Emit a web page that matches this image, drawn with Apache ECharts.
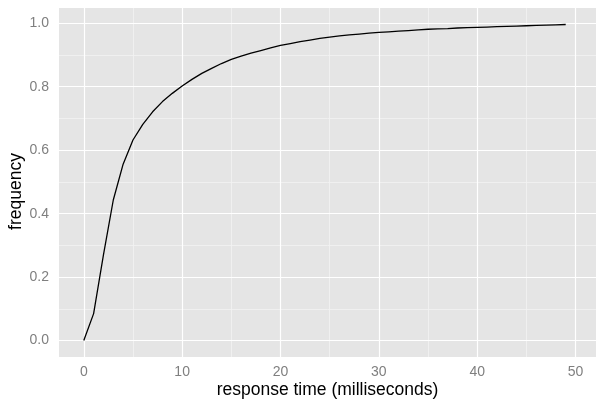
<!doctype html>
<html>
<head>
    <meta http-equiv="Content-Type" content="text/html; charset=utf-8" />
    <title>response time</title>
    <script src="https://cdn.jsdelivr.net/npm/echarts@6/dist/echarts.min.js"></script>
    <style>
        html, body { margin: 0; padding: 0; background: #fff; }
        #main { width: 597px; height: 401px; }
    </style>
</head>
<body>
<div id="main"></div>
<script type="text/javascript">
    // data
    var responseTime = [0, 1, 2, 3, 4, 5, 6, 7, 8, 9,
        10, 11, 12, 13, 14, 15, 16, 17, 18, 19,
        20, 21, 22, 23, 24, 25, 26, 27, 28, 29,
        30, 31, 32, 33, 34, 35, 36, 37, 38, 39,
        40, 41, 42, 43, 44, 45, 46, 47, 48, 49];
    var frequency = [0.000, 0.085, 0.270, 0.443, 0.556, 0.632, 0.681, 0.721, 0.753, 0.779,
        0.802, 0.823, 0.842, 0.858, 0.873, 0.886, 0.896, 0.906, 0.914, 0.922,
        0.930, 0.936, 0.942, 0.947, 0.952, 0.956, 0.960, 0.963, 0.966, 0.969,
        0.971, 0.973, 0.975, 0.977, 0.979, 0.981, 0.982, 0.983, 0.985, 0.986,
        0.987, 0.988, 0.989, 0.990, 0.991, 0.992, 0.993, 0.994, 0.995, 0.996];
    var xTicks = [0, 10, 20, 30, 40, 50];
    var xMinor = [5, 15, 25, 35, 45];
    var yTicks = [0, 0.2, 0.4, 0.6, 0.8, 1.0];
    var yMinor = [0.1, 0.3, 0.5, 0.7, 0.9];

    var font = "'Liberation Sans', Arial, Helvetica, sans-serif";
    var tickGrey = '#7f7f7f';

    function gridLines(vals, key) {
        return vals.map(function (v) {
            var o = {};
            o[key] = v;
            return o;
        });
    }

    var myChart = echarts.init(document.getElementById('main'), null, { renderer: 'canvas' });

    var option = {
        backgroundColor: '#ffffff',
        animation: false,
        grid: {
            left: 59,
            top: 8,
            right: 1,
            bottom: 44,
            show: true,
            backgroundColor: '#e5e5e5',
            borderWidth: 0,
            containLabel: false,
            outerBoundsMode: 'none'
        },
        xAxis: {
            type: 'value',
            min: -2.52,
            max: 52.08,
            name: 'response time (milliseconds)',
            nameLocation: 'middle',
            nameGap: 24,
            nameMoveOverlap: false,
            nameTextStyle: { color: '#000', fontSize: 17.5, fontFamily: font },
            axisLine: { show: false },
            axisTick: {
                show: true,
                customValues: xTicks,
                length: 5,
                lineStyle: { color: tickGrey, width: 1 }
            },
            axisLabel: {
                customValues: xTicks,
                color: tickGrey,
                fontSize: 14,
                fontFamily: font,
                margin: 8
            },
            splitLine: { show: false }
        },
        yAxis: {
            type: 'value',
            min: -0.0517,
            max: 1.048,
            name: 'frequency',
            nameLocation: 'middle',
            nameGap: 34,
            nameRotate: 90,
            nameMoveOverlap: false,
            nameTextStyle: { color: '#000', fontSize: 17.5, fontFamily: font, padding: [0, 18, 0, 0] },
            axisLine: { show: false },
            axisTick: {
                show: true,
                customValues: yTicks,
                length: 5,
                lineStyle: { color: tickGrey, width: 1 }
            },
            axisLabel: {
                customValues: yTicks,
                color: tickGrey,
                fontSize: 14,
                fontFamily: font,
                margin: 10,
                formatter: function (v) { return v.toFixed(1); }
            },
            splitLine: { show: false }
        },
        series: [{
            // minor grid
            type: 'line',
            data: [],
            silent: true,
            z: 1,
            markLine: {
                silent: true,
                z: 1,
                symbol: 'none',
                label: { show: false },
                lineStyle: { color: '#f2f2f2', type: 'solid', width: 0.8 },
                data: gridLines(xMinor, 'xAxis').concat(gridLines(yMinor, 'yAxis'))
            }
        }, {
            // major grid
            type: 'line',
            data: [],
            silent: true,
            z: 2,
            markLine: {
                silent: true,
                z: 2,
                symbol: 'none',
                label: { show: false },
                lineStyle: { color: '#ffffff', type: 'solid', width: 1.2 },
                data: gridLines(xTicks, 'xAxis').concat(gridLines(yTicks, 'yAxis'))
            }
        }, {
            type: 'line',
            z: 10,
            data: responseTime.map(function (t, i) { return [t, frequency[i]]; }),
            showSymbol: false,
            symbol: 'none',
            lineStyle: { color: '#000000', width: 1.3 }
        }]
    };
    myChart.setOption(option);
</script>
</body>
</html>
